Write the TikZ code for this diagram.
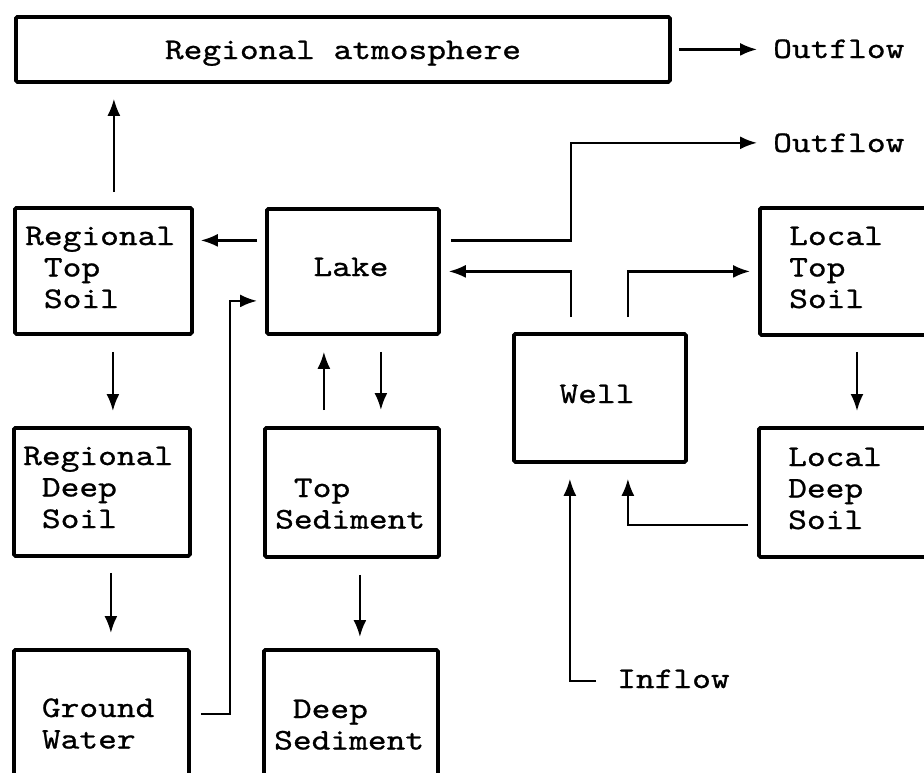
\documentclass[tikz,border=0pt]{standalone}
\usepackage{fontspec}
\usetikzlibrary{arrows.meta,calc}
\newfontfamily\cour{lmmono10-regular.otf}[FakeStretch=1.19,FakeBold=0.8]
\newcommand\sind{\hphantom{x}}
\tikzset{
  box/.style={draw, line width=3.8pt, rounded corners=1.5pt, inner sep=0pt, anchor=north west},
  arr/.style={line width=2.2pt, -{Latex[length=17pt,width=13pt]}},
  lbl/.style={font={\fontsize{30}{31.5}\selectfont\cour}, inner sep=0pt, anchor=base west},
  lblc/.style={lbl, anchor=base},
}
\begin{document}
\begin{tikzpicture}[x=1pt,y=-1pt]
\fill[white] (0,0) rectangle (924,772);
\clip (0,0) rectangle (924,772);
% boxes
\node[box, minimum width=654pt, minimum height=65pt] (atm) at (14,15) {};
\node[box, minimum width=177pt, minimum height=126pt] (RTS) at (13,206) {};
\node[box, minimum width=172pt, minimum height=125pt] (Lake) at (265,207) {};
\node[box, minimum width=200pt, minimum height=127pt] (LTS) at (758,206) {};
\node[box, minimum width=172pt, minimum height=128pt] (Well) at (512,332) {};
\node[box, minimum width=176pt, minimum height=128pt] (RDS) at (12,426) {};
\node[box, minimum width=174pt, minimum height=129pt] (TopSed) at (263,426) {};
\node[box, minimum width=200pt, minimum height=129pt] (LDS) at (757,426) {};
\node[box, minimum width=175pt, minimum height=128pt] (GW) at (12,648) {};
\node[box, minimum width=174pt, minimum height=128pt] (DeepSed) at (262,648) {};
% texts
\node[lblc] (tatm) at (343,59) {Regional atmosphere};
\node[lbl] (out1) at (773,58) {Outflow};
\node[lbl] (out2) at (773,152) {Outflow};
\node[lbl] (inflow) at (617,688) {Inflow};
\node[lbl] (tRTS) at (25,245) {\parbox[t]{6cm}{Regional\\\sind Top\\\sind Soil}};
\node[lblc] (tLake) at (351,276) {Lake};
\node[lbl] (tLTS) at (789,245) {\parbox[t]{6cm}{Local\\Top\\Soil}};
\node[lblc] (tWell) at (597,403) {Well};
\node[lbl] (tRDS) at (23,465) {\parbox[t]{6cm}{Regional\\\sind Deep\\\sind Soil}};
\node[lbl] (tTopSed) at (275,497) {\parbox[t]{6cm}{\sind Top\\Sediment}};
\node[lbl] (tLDS) at (788,466) {\parbox[t]{6cm}{Local\\Deep\\Soil}};
\node[lbl] (tGW) at (23,717) {\parbox[t]{6cm}{\sind Ground\\\sind Water}};
\node[lbl] (tDeepSed) at (274,718) {\parbox[t]{6cm}{\sind Deep\\Sediment}};
% connectors
\draw[arr] ($(RTS.north)+(10.5,-14)$) -- ($(atm.south -| RTS.north)+(10.5,15)$);
\draw[arr] ($(atm.east)+(7,0)$) -- ($(atm.east -| out1.west)+(-16,0)$);
\draw[arr] ($(Lake.east)+(10,-31)$) -- ($(Lake.east -| Well.north)+(-29,-31)$) |- ($(out2.west)+(-16,0)$);
\draw[arr] ($(Lake.west)+(-8,-31)$) -- ($(Lake.west -| RTS.east)+(7,-31)$);
\draw[arr] ($(Well.north)+(-29,-15)$) |- ($(Lake.east)+(8,0)$);
\draw[arr] ($(Well.north)+(28,-15)$) |- ($(LTS.west)+(-8,0)$);
\draw[arr] ($(GW.east)+(10,0)$) -- ($(GW.east)+(39,0)$) |- ($(Lake.west)+(-8,29.5)$);
\draw[arr] ($(RTS.south)+(9.5,16)$) -- ($(RDS.north -| RTS.south)+(9.5,-15)$);
\draw[arr] ($(RDS.south)+(9,15)$) -- ($(GW.north -| RDS.south)+(9,-15)$);
\draw[arr] ($(TopSed.north)+(-28,-16)$) -- ($(Lake.south -| TopSed.north)+(-28,16)$);
\draw[arr] ($(Lake.south)+(28,16)$) -- ($(TopSed.north -| Lake.south)+(28,-16)$);
\draw[arr] ($(TopSed.south)+(8,16)$) -- ($(DeepSed.north -| TopSed.south)+(8,-11)$);
\draw[arr] ($(LTS.south west)+(99,15)$) -- ($(LDS.north west)+(100,-15)$);
\draw[arr] ($(LDS.west)+(-9,32.5)$) -| ($(Well.south)+(28,15)$);
\draw[arr] ($(inflow.base west)+(-21,-7)$) -| ($(Well.south)+(-30,15)$);
\end{tikzpicture}
\end{document}
